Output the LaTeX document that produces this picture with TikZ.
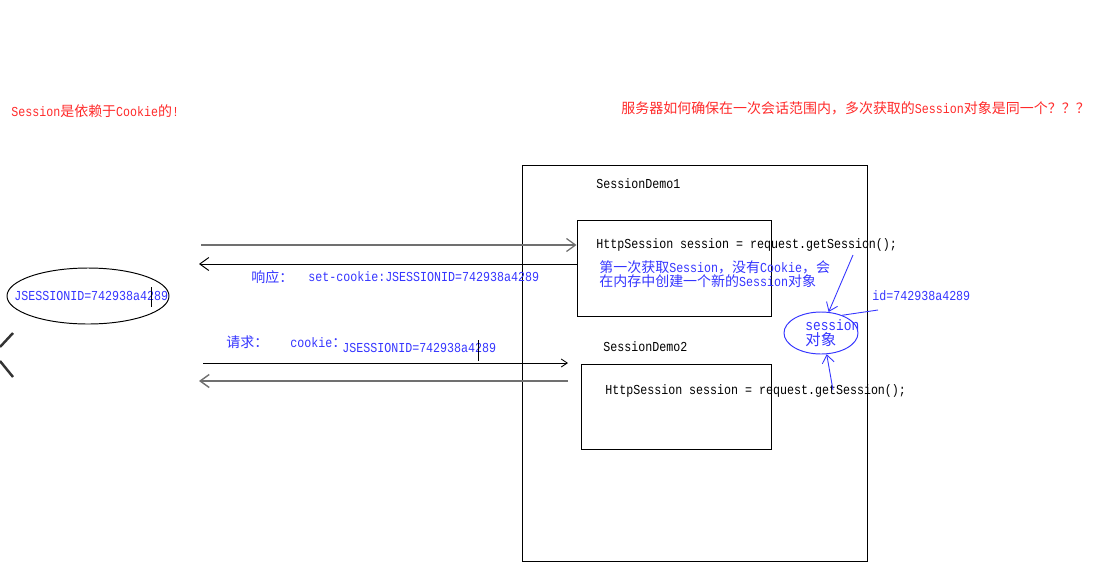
\documentclass[tikz,border=0pt]{standalone}
\usepackage{fontspec}
\setmainfont[FakeStretch=0.85]{Liberation Mono}
\newfontfamily\cjk[Scale=1.02]{Noto Sans CJK SC}
\usepackage{xcolor}
\usetikzlibrary{arrows.meta,shapes.geometric}
\definecolor{redc}{HTML}{FF2A2A}
\definecolor{bluec}{HTML}{3535FF}
\definecolor{grayc}{HTML}{707070}
\tikzset{
  ar/.style={-{Straight Barb[length=1.8mm,width=2.6mm]},line width=0.55pt},
  bar/.style={-{Straight Barb[length=1.6mm,width=2.4mm]},line width=0.5pt,bluec},
  box/.style={draw,line width=0.55pt,inner sep=0pt},
  oval/.style={ellipse,draw,line width=0.55pt,inner sep=0pt},
  txt/.style={anchor=west,inner sep=0pt,font=\fontsize{7.8}{7.9}\selectfont},
  btxt/.style={txt,text=bluec},
  rtxt/.style={txt,text=redc}
}

\begin{document}
\begin{tikzpicture}[x=0.2mm,y=-0.2mm]
\useasboundingbox (0,0) rectangle (1105,579);
% titles
\node[rtxt] (t1) at (11,111) {Session{\cjk 是依赖于}Cookie{\cjk 的}!};
\node[rtxt] (t2) at (621,108) {{\cjk 服务器如何确保在一次会话范围内，多次获取的}Session{\cjk 对象是同一个？？？}};
% server side
\node[box,minimum width=69mm,minimum height=79.2mm] (srv) at (694.5,363) {};
\node[txt] (n1) at (596,184) {SessionDemo1};
\node[box,minimum width=38.8mm,minimum height=19.2mm] (demo1) at (674,268) {};
\node[txt] (c1) at (596,245) {HttpSession session = request.getSession();};
\node[btxt,align=left] (note) at (599,274) {{\cjk 第一次获取}Session{\cjk ，没有}Cookie{\cjk ，会}\\{\cjk 在内存中创建一个新的}Session{\cjk 对象}};
\node[txt] (n2) at (603,347) {SessionDemo2};
\node[box,minimum width=38mm,minimum height=17mm] (demo2) at (676,406.5) {};
\node[txt] (c2) at (605,391) {HttpSession session = request.getSession();};
% session object
\node[oval,draw=bluec,minimum width=14.8mm,minimum height=8.4mm] (sobj) at (821,333) {};
\node[btxt,align=left,font=\fontsize{8.6}{8.4}\selectfont] (stxt) at (805,333) {session\\{\cjk 对象}};
\node[btxt] (sid) at (872,296) {id=742938a4289};
\coordinate (q1) at (853,255);
\coordinate (q2) at (833,390);
\coordinate (q3) at (878,310);
\draw[bar] (q1) -- (sobj.70);
\draw[bar] (q2) -- (sobj.-75);
\draw[bluec,line width=0.5pt] (q3) -- (sobj.40);
% browser side
\node[oval,minimum width=32.4mm,minimum height=11.2mm] (jsid) at (88,296) {};
\node[btxt] (jtxt) at (14,296) {JSESSIONID=742938a4289};
\draw[line width=0.4pt] (151,287) -- (151,307);
\draw[line width=1.4pt,black!80] (13,333) -- (0,347) (0,361) -- (13,377);
% response
\coordinate (a1) at (201,245);
\coordinate (a2) at (199,264);
\draw[ar,grayc,line width=0.7pt] (a1) -- (demo1.west |- a1);
\draw[ar] (demo1.west |- a2) -- (a2);
\node[btxt] (resp) at (251,277) {{\cjk 响应：}};
\node[btxt] (setc) at (308,277) {set-cookie:JSESSIONID=742938a4289};
% request
\node[btxt] (req) at (226,342) {{\cjk 请求：}};
\node[btxt] (ck) at (290,343) {cookie{\cjk ：}};
\node[btxt] (ckv) at (342,348) {JSESSIONID=742938a4289};
\draw[line width=0.4pt] (478,340) -- (478,361);
\coordinate (a3s) at (203,363);
\coordinate (a3e) at (568,363);
\coordinate (a4s) at (568,381);
\coordinate (a4e) at (199,381);
\draw[-{Straight Barb[length=1.2mm,width=1.6mm]},line width=0.5pt] (a3s) -- (a3e);
\draw[ar,grayc,line width=0.8pt] (a4s) -- (a4e);
\end{tikzpicture}
\end{document}
